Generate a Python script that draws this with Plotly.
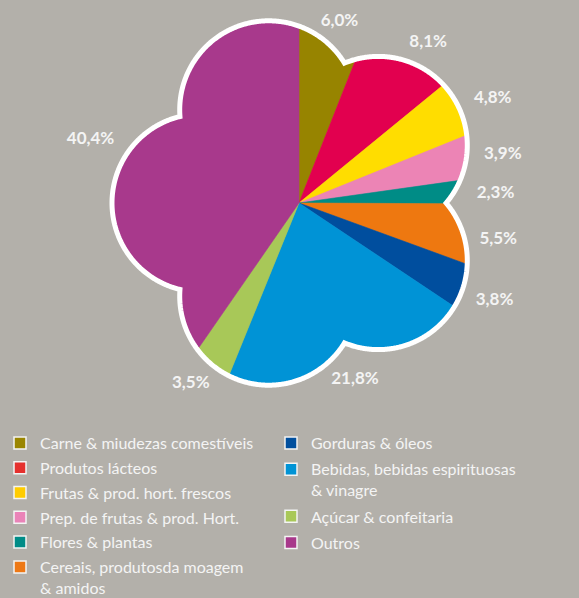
import numpy as np
import plotly.graph_objects as go

# ---- data ----
categories = [
    "Carne & miudezas comestíveis",
    "Produtos lácteos",
    "Frutas & prod. hort. frescos",
    "Prep. de frutas & prod. Hort.",
    "Flores & plantas",
    "Cereais, produtosda moagem<br>& amidos",
    "Gorduras & óleos",
    "Bebidas, bebidas espirituosas<br>& vinagre",
    "Açúcar & confeitaria",
    "Outros",
]
shares = [6.0, 8.1, 4.8, 3.9, 2.3, 5.5, 3.8, 21.8, 3.5, 40.4]
share_labels = ["6,0%", "8,1%", "4,8%", "3,9%", "2,3%", "5,5%", "3,8%", "21,8%", "3,5%", "40,4%"]
slice_colors = ["#978400", "#E2004F", "#FFDD00", "#EC84B5", "#008C86",
                "#EE7810", "#004E9E", "#0093D6", "#A8C858", "#A8398C"]
legend_colors = ["#9A8500", "#E5302D", "#FFCC00", "#EA83B8", "#008C87",
                 "#EE7814", "#004F9E", "#0093D5", "#A9C858", "#A8388B"]
legend_group = ["legend"] * 6 + ["legend2"] * 4

# ---- flower outline geometry (5 scalloped lobes) ----
D, RHO = 98.0, 89.0
LOBE0, LOBE_STEP = 54.0, 72.0


def outline_r(theta_deg):
    th = np.asarray(theta_deg, dtype=float)
    phi = np.radians(((th - LOBE0 + LOBE_STEP / 2) % LOBE_STEP) - LOBE_STEP / 2)
    return D * np.cos(phi) + np.sqrt(RHO ** 2 - (D * np.sin(phi)) ** 2)


BG = "#B3B0AA"
W, H = 579, 598
cx, cy, R = 299, 203, 195

fig = go.Figure()

total = sum(shares)
bounds = np.concatenate([[0], np.cumsum(shares)]) / total * 360.0

for i, (cat, col) in enumerate(zip(categories, slice_colors)):
    a0, a1 = bounds[i], bounds[i + 1]
    th = np.linspace(a0, a1, max(int((a1 - a0) * 4), 8))
    r = outline_r(th)
    fig.add_trace(go.Scatterpolar(
        r=np.concatenate([[0], r, [0]]),
        theta=np.concatenate([[a0], th, [a1]]),
        mode="lines", fill="toself", fillcolor=col,
        line=dict(color=col, width=0.6),
        showlegend=False, hoverinfo="skip",
    ))

# white scalloped outline
th_all = np.linspace(0, 360, 1441)
fig.add_trace(go.Scatterpolar(
    r=outline_r(th_all), theta=th_all, mode="lines",
    line=dict(color="white", width=5), showlegend=False, hoverinfo="skip",
))

# percentage labels ("outside end": box edge kept a small gap off the outline)
mids = (bounds[:-1] + bounds[1:]) / 2
ang = np.radians(mids + 1.0)
anchor_r = np.maximum(outline_r(mids), 160) + 16
half_w = np.array([5.2 * len(t) for t in share_labels])
half_h = 8.0
lx = cx + anchor_r * np.sin(ang) + half_w * np.sin(ang)
ly = cy - anchor_r * np.cos(ang) - half_h * np.cos(ang)
fig.add_trace(go.Scatter(
    x=lx, y=ly, mode="text", text=share_labels,
    textfont=dict(family="Lato", size=17, color="#F4F4F4", weight="bold"),
    showlegend=False, hoverinfo="skip", cliponaxis=False,
))

# legend entries
for i, (cat, col, lg) in enumerate(zip(categories, legend_colors, legend_group)):
    fig.add_trace(go.Scatterpolar(
        r=[None], theta=[None], mode="markers", name=cat,
        marker=dict(symbol="square", size=12, color=col,
                    line=dict(color="#F4F4F4", width=1.5)),
        legend=lg, legendgroup=f"g{i}",
    ))

fig.update_layout(
    width=W, height=H,
    margin=dict(l=0, r=0, t=0, b=0, autoexpand=False),
    paper_bgcolor=BG, plot_bgcolor="rgba(0,0,0,0)",
    font=dict(family="Lato", color="#F4F4F4", size=16),
    xaxis=dict(range=[0, W], visible=False, fixedrange=True, domain=[0, 1]),
    yaxis=dict(range=[H, 0], visible=False, fixedrange=True, domain=[0, 1]),
    polar=dict(
        domain=dict(x=[(cx - R) / W, (cx + R) / W],
                    y=[(H - cy - R) / H, (H - cy + R) / H]),
        bgcolor="rgba(0,0,0,0)",
        radialaxis=dict(range=[0, R], visible=False),
        angularaxis=dict(direction="clockwise", rotation=90,
                         visible=False, showgrid=False),
    ),
    legend=dict(x=0 / W, y=1 - 426 / H, xanchor="left", yanchor="top",
                bgcolor="rgba(0,0,0,0)", font=dict(family="Lato", size=16, color="#F4F4F4"),
                tracegroupgap=1, valign="top"),
    legend2=dict(x=271 / W, y=1 - 426 / H, xanchor="left", yanchor="top",
                 bgcolor="rgba(0,0,0,0)", font=dict(family="Lato", size=16, color="#F4F4F4"),
                 tracegroupgap=2.5, valign="top"),
)

fig.write_html("out.html", config={"displayModeBar": False},
               post_script="document.body.style.margin='0';document.body.style.background='%s';" % BG)
